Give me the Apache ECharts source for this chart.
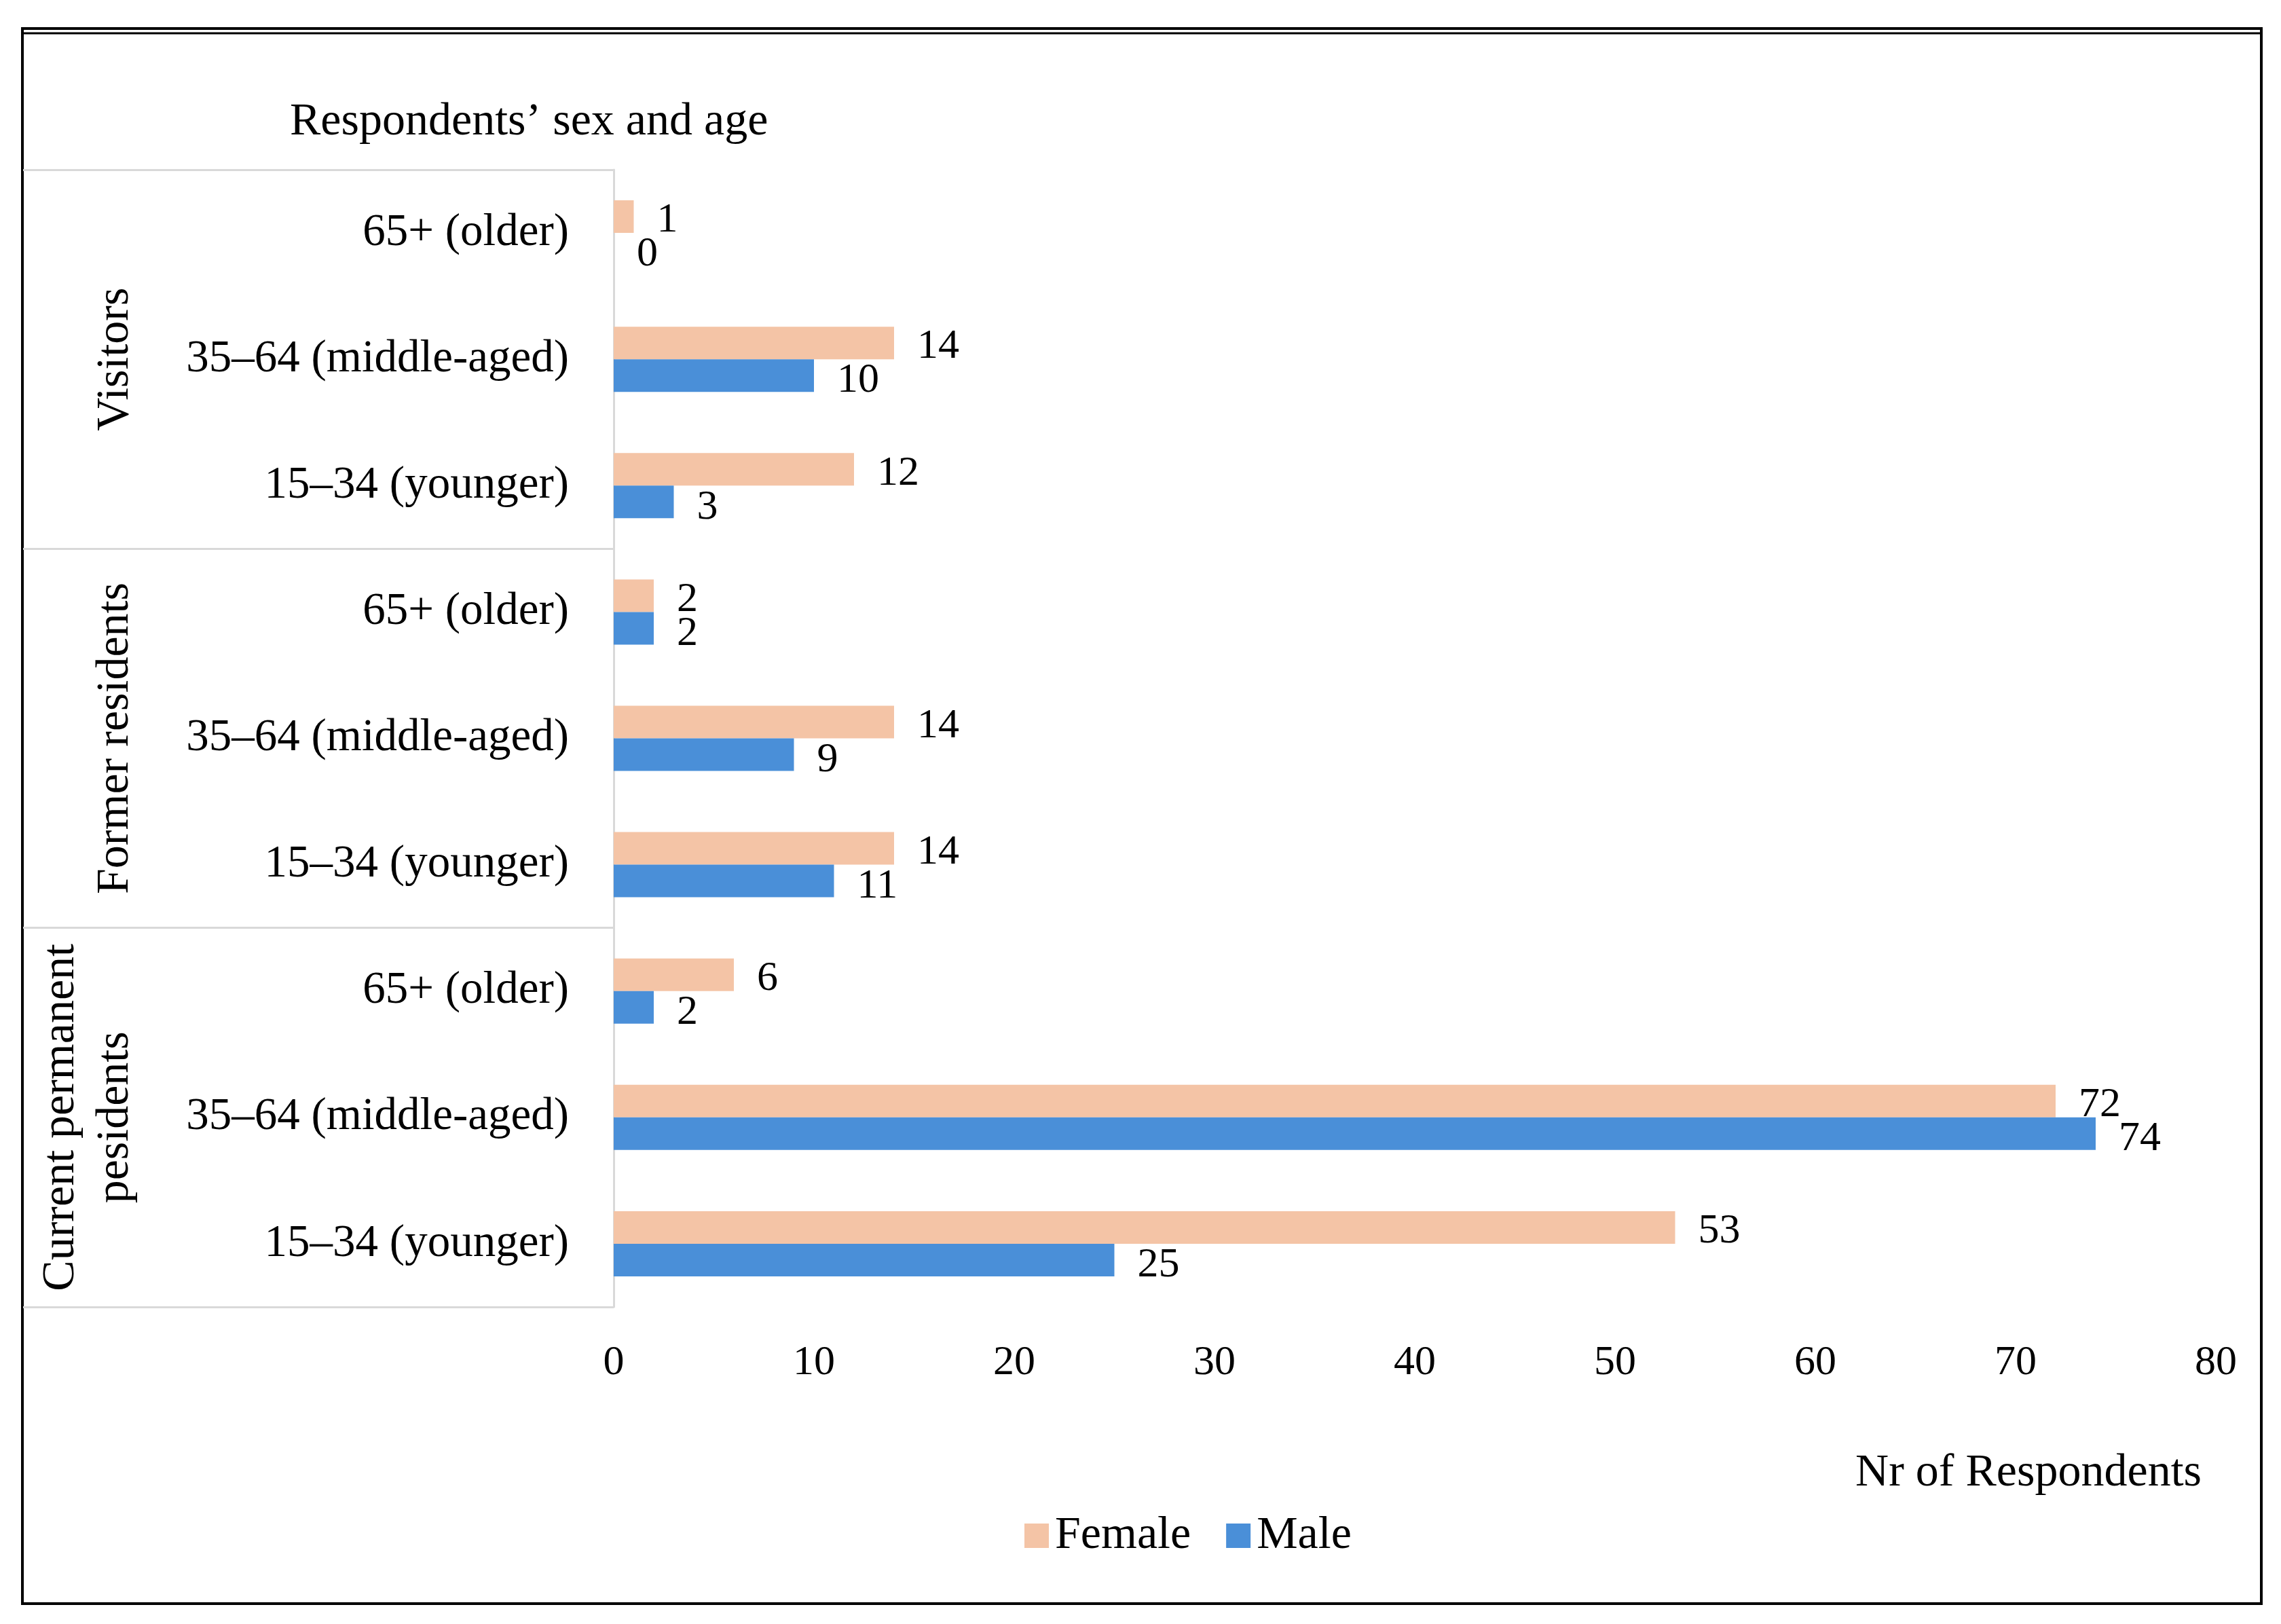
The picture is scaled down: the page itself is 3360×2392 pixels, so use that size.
<!DOCTYPE html>
<html>
<head>
<meta charset="utf-8">
<script src="https://cdn.jsdelivr.net/npm/echarts@6/dist/echarts.min.js"></script>
<style>
html,body{margin:0;padding:0;background:#fff;}
#chart{width:3360px;height:2392px;}
</style>
</head>
<body>
<div id="chart"></div>
<script>
// ---- data ----
var ageCategories = [
  '65+ (older)', '35–64 (middle-aged)', '15–34 (younger)',
  '65+ (older)', '35–64 (middle-aged)', '15–34 (younger)',
  '65+ (older)', '35–64 (middle-aged)', '15–34 (younger)'
];
var groupCategories = ['Visitors', 'Former residents', 'Current permanent\npesidents'];
var femaleValues = [1, 14, 12, 2, 14, 14, 6, 72, 53];
var maleValues   = [0, 10, 3, 2, 9, 11, 2, 74, 25];
var seriesNames = ['Female', 'Male'];
var xTicks = { min: 0, max: 80, interval: 10 };

var FONT = '"Liberation Serif", "Times New Roman", serif';
var chart = echarts.init(document.getElementById('chart'), null, { renderer: 'canvas' });

var option = {
  backgroundColor: '#ffffff',
  animation: false,
  textStyle: { fontFamily: FONT, color: '#000' },
  title: [
    { text: 'Respondents’ sex and age', left: 422, top: 141,
      textStyle: { fontFamily: FONT, fontSize: 68, fontWeight: 'normal', color: '#000' } },
    { text: 'Nr of Respondents', right: 112, top: 2131,
      textStyle: { fontFamily: FONT, fontSize: 68, fontWeight: 'normal', color: '#000' } }
  ],
  legend: {
    data: seriesNames,
    left: 1504, top: 2223,
    icon: 'rect', itemWidth: 36, itemHeight: 36, itemGap: 52,
    textStyle: { fontFamily: FONT, fontSize: 68, color: '#000', padding: [0, 0, 0, 4] }
  },
  grid: { left: 904, right: 96, top: 250, bottom: 467 },
  xAxis: {
    type: 'value', min: xTicks.min, max: xTicks.max, interval: xTicks.interval,
    axisLine: { show: false }, axisTick: { show: false }, splitLine: { show: false },
    axisLabel: { fontFamily: FONT, fontSize: 62, color: '#000', margin: 52 }
  },
  yAxis: [
    {
      type: 'category', data: ageCategories, inverse: true,
      axisLine: { show: true, lineStyle: { color: '#d9d9d9', width: 3 } },
      axisTick: { show: false },
      axisLabel: { interval: 0, fontFamily: FONT, fontSize: 67, color: '#000', margin: 66,
        padding: [8, 0, 0, 0] }
    },
    {
      type: 'category', data: groupCategories, inverse: true, position: 'left',
      axisLine: { show: false },
      axisTick: { show: true, interval: 0, length: 870, lineStyle: { color: '#d9d9d9', width: 3 } },
      axisLabel: { interval: 0, fontFamily: FONT, fontSize: 68, color: '#000', rotate: 90,
        align: 'center', verticalAlign: 'bottom', lineHeight: 80, margin: 694 }
    }
  ],
  series: [
    { name: 'Female', type: 'bar', data: femaleValues, yAxisIndex: 0,
      barWidth: 48, barGap: '0%',
      itemStyle: { color: '#F4C4A6' },
      label: { show: true, position: 'right', distance: 34, offset: [0, 6],
        fontFamily: FONT, fontSize: 62, color: '#000' } },
    { name: 'Male', type: 'bar', data: maleValues, yAxisIndex: 0,
      barWidth: 48, barGap: '0%',
      itemStyle: { color: '#4A8FD8' },
      label: { show: true, position: 'right', distance: 34, offset: [0, 8],
        fontFamily: FONT, fontSize: 62, color: '#000' } }
  ],
  graphic: [
    { type: 'rect', shape: { x: 33, y: 42, width: 3298, height: 2320 },
      style: { fill: 'none', stroke: '#000', lineWidth: 4 }, silent: true },
    { type: 'line', shape: { x1: 33, y1: 49, x2: 3331, y2: 49 },
      style: { stroke: '#000', lineWidth: 3 }, silent: true }
  ]
};
chart.setOption(option);
</script>
</body>
</html>
